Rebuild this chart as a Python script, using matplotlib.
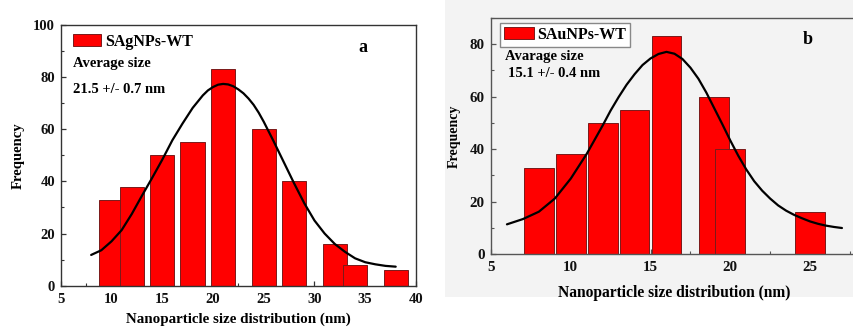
import matplotlib
matplotlib.use("Agg")
import matplotlib.pyplot as plt
from matplotlib.patches import Rectangle
from matplotlib.ticker import MultipleLocator

plt.rcParams['font.family'] = ['Liberation Serif', 'DejaVu Serif']
plt.rcParams['font.weight'] = 'bold'

# ---- Panel a data ----
a_centers = [10, 12, 15, 18, 21, 25, 28, 32, 34, 38]
a_counts = [33, 38, 50, 55, 83, 60, 40, 16, 8, 6]
# fitted curve
a_fit_x = [8, 9, 10, 11, 12, 13, 14, 15, 16, 17, 18, 18.5, 19, 19.5, 20, 20.5, 21,
           21.5, 22, 22.5, 23, 23.5, 24, 24.5, 25, 26, 27, 28, 29, 30, 31, 32, 33,
           34, 35, 36, 37, 38]
a_fit_y = [11.8, 13.6, 17.0, 21.3, 27.5, 34.5, 41.3, 48.3, 55.8, 62.2, 68.2, 70.6,
           73.0, 74.9, 76.2, 77.1, 77.4, 77.2, 76.5, 75.3, 73.8, 71.8, 69.4, 66.4,
           62.9, 55.2, 47.2, 39.2, 31.6, 25.0, 20.0, 16.0, 13.0, 10.5, 9.0, 8.2,
           7.6, 7.3]
a_xticks = [5, 10, 15, 20, 25, 30, 35, 40]
a_yticks = [0, 20, 40, 60, 80, 100]

# ---- Panel b data ----
b_centers = [8, 10, 12, 14, 16, 19, 20, 25]
b_counts = [33, 38, 50, 55, 83, 60, 40, 16]
b_fit_x = [6, 7, 8, 9, 10, 11, 11.5, 12, 12.5, 13, 13.5, 14, 14.5, 15, 15.5, 16,
           16.5, 17, 17.5, 18, 18.5, 19, 19.5, 20, 20.5, 21, 21.5, 22, 22.5, 23,
           23.5, 24, 24.5, 25, 25.5, 26, 26.5, 27]
b_fit_y = [11.4, 13.4, 16.2, 21.2, 28.8, 38.2, 43.6, 49.0, 54.7, 59.8, 64.5, 68.5,
           72.0, 74.5, 76.2, 77.0, 76.3, 74.3, 71.0, 66.8, 61.5, 55.5, 49.5, 43.3,
           37.5, 32.3, 27.8, 24.2, 21.2, 18.6, 16.6, 15.0, 13.7, 12.5, 11.6, 10.9,
           10.4, 10.0]
b_xticks = [5, 10, 15, 20, 25]
b_yticks = [0, 20, 40, 60, 80]

W, H = 854, 327
fig = plt.figure(figsize=(W / 100, H / 100), dpi=100)
fig.patch.set_facecolor('white')

BG_B = '#f3f3f3'
bg = Rectangle((445 / W, (H - 297) / H), (W - 445) / W, 297 / H,
               transform=fig.transFigure, facecolor=BG_B,
               edgecolor='none', zorder=-10)
fig.patches.append(bg)

RED = '#ff0000'
EDGE = '#7a1a1a'


def px_axes(l, r, t, b):
    return [l / W, (H - b) / H, (r - l) / W, (b - t) / H]


def style(ax, spine_color, tick_fs):
    for s in ax.spines.values():
        s.set_color(spine_color)
        s.set_linewidth(1.0)
    ax.tick_params(which='both', direction='in', colors=spine_color,
                   labelcolor='#111111', labelsize=tick_fs)
    ax.tick_params(which='major', length=3.5, width=0.9)
    ax.tick_params(which='minor', length=2.0, width=0.8)
    for lab in ax.get_xticklabels() + ax.get_yticklabels():
        lab.set_fontweight('bold')


# ---------------- Panel a ----------------
axa = fig.add_axes(px_axes(60.7, 416, 25, 285.7))
axa.set_facecolor('white')
bars_a = axa.bar(a_centers, a_counts, width=2.4, color=RED, edgecolor=EDGE,
                 linewidth=0.7, label='SAgNPs-WT', zorder=2)
axa.plot(a_fit_x, a_fit_y, color='black', lw=1.6, zorder=3,
         solid_joinstyle='round', solid_capstyle='round')
axa.set_xlim(5, 40)
axa.set_ylim(0, 100)
axa.set_xticks(a_xticks)
axa.set_yticks(a_yticks)
axa.xaxis.set_minor_locator(MultipleLocator(2.5))
axa.yaxis.set_minor_locator(MultipleLocator(10))
axa.tick_params(axis='x', pad=5)
axa.tick_params(axis='y', pad=4)
style(axa, '#333333', 10.5)
axa.set_xlabel('Nanoparticle size distribution (nm)', fontsize=10.8,
               fontweight='bold', labelpad=5)
axa.set_ylabel('Frequency', fontsize=10.6, fontweight='bold', labelpad=6)
leg = axa.legend(handles=[bars_a], loc='upper left', bbox_to_anchor=(0.034, 0.967),
                 frameon=False, borderpad=0, borderaxespad=0,
                 handlelength=1.75, handleheight=0.8, handletextpad=0.25,
                 prop={'size': 11.5, 'weight': 'bold'})
axa.text(0.0355, 0.853, 'Average size', transform=axa.transAxes,
         fontsize=10.5, fontweight='bold', va='center', ha='left')
axa.text(0.0355, 0.752, '21.5 +/- 0.7 nm', transform=axa.transAxes,
         fontsize=10.5, fontweight='bold', va='center', ha='left')
axa.text(0.851, 0.912, 'a', transform=axa.transAxes,
         fontsize=13, fontweight='bold', va='center', ha='center')

# ---------------- Panel b ----------------
axb = fig.add_axes(px_axes(491, 857.9, 17.7, 254.3))
axb.set_facecolor(BG_B)
bars_b = axb.bar(b_centers, b_counts, width=1.86, color=RED, edgecolor=EDGE,
                 linewidth=0.7, label='SAuNPs-WT', zorder=2)
axb.plot(b_fit_x, b_fit_y, color='black', lw=1.6, zorder=3,
         solid_joinstyle='round', solid_capstyle='round')
axb.set_xlim(5, 28)
axb.set_ylim(0, 90)
axb.set_xticks(b_xticks)
axb.set_yticks(b_yticks)
axb.xaxis.set_minor_locator(MultipleLocator(2.5))
axb.yaxis.set_minor_locator(MultipleLocator(10))
axb.tick_params(axis='x', pad=5)
axb.tick_params(axis='y', pad=4.5)
style(axb, '#555555', 10.8)
axb.set_xlabel('Nanoparticle size distribution (nm)', fontsize=11.2,
               fontweight='bold', labelpad=8)
axb.set_ylabel('Frequency', fontsize=10, fontweight='bold', labelpad=6)
legb = axb.legend(handles=[bars_b], loc='upper left', bbox_to_anchor=(0.0245, 0.979),
                  frameon=True, fancybox=False, borderpad=0.25, borderaxespad=0,
                  handlelength=1.85, handleheight=0.7, handletextpad=0.2,
                  prop={'size': 11.5, 'weight': 'bold'})
legb.get_frame().set_edgecolor('#888888')
legb.get_frame().set_linewidth(1.0)
legb.get_frame().set_facecolor('white')
legb.get_frame().set_alpha(1)
axb.text(0.038, 0.835, 'Avarage size', transform=axb.transAxes,
         fontsize=10.5, fontweight='bold', va='center', ha='left')
axb.text(0.047, 0.765, '15.1 +/- 0.4 nm', transform=axb.transAxes,
         fontsize=10.5, fontweight='bold', va='center', ha='left')
axb.text(0.864, 0.906, 'b', transform=axb.transAxes,
         fontsize=13, fontweight='bold', va='center', ha='center')

fig.savefig('out.png', dpi=100)
